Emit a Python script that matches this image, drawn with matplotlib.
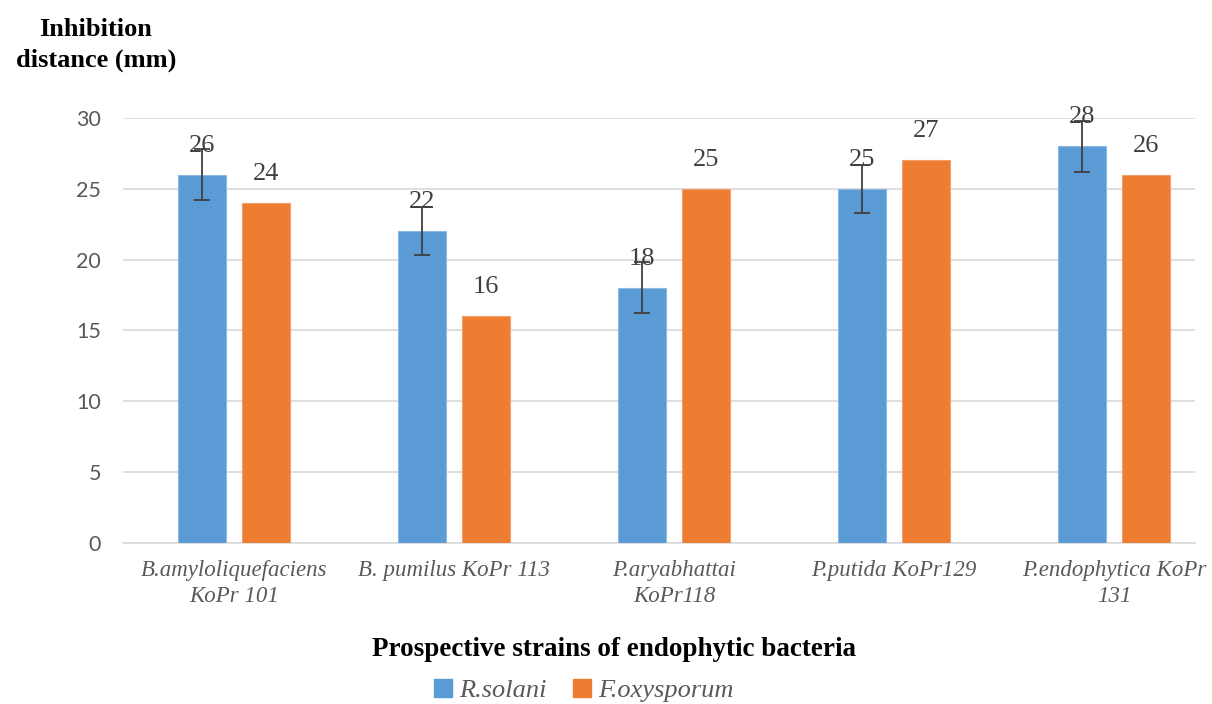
import matplotlib
matplotlib.use("Agg")
import matplotlib.pyplot as plt
import numpy as np
from matplotlib.patches import Patch

categories = ["B.amyloliquefaciens\nKoPr 101", "B. pumilus KoPr 113", "P.aryabhattai\nKoPr118",
              "P.putida KoPr129", "P.endophytica KoPr\n131"]
r_solani = [26, 22, 18, 25, 28]
r_solani_err = [1.8, 1.7, 1.8, 1.7, 1.8]
f_oxysporum = [24, 16, 25, 27, 26]
series_names = ["R.solani", "F.oxysporum"]
yticks = [0, 5, 10, 15, 20, 25, 30]

BLUE = "#5B9BD5"
ORANGE = "#ED7D31"
GREY = "#595959"

fig = plt.figure(figsize=(12.12, 7.04), dpi=100)
ax = fig.add_axes([0.1015, 0.2287, 0.8845, 0.6037])

x = np.arange(len(categories))
w = 0.218
off = 0.145
ax.bar(x - off, r_solani, w, color=BLUE, edgecolor="#8DB9E3", linewidth=0.8, zorder=3)
ax.bar(x + off, f_oxysporum, w, color=ORANGE, edgecolor="#F3A06A", linewidth=0.8, zorder=3)
ax.errorbar(x - off, r_solani, yerr=r_solani_err, fmt="none", ecolor="#404040",
            elinewidth=1.3, capsize=5.5, capthick=1.3, zorder=4)

for xs, vals in ((x - off, r_solani), (x + off, f_oxysporum)):
    for xi, v in zip(xs, vals):
        ax.annotate(f"{v}", (xi, v), xytext=(0, 13), textcoords="offset points",
                    ha="center", va="bottom", fontsize=19, family="Liberation Serif",
                    color="#404040", annotation_clip=False, zorder=5)

ax.set_xlim(-0.505, 4.368)
ax.set_ylim(0, 30)
ax.set_yticks(yticks)
ax.yaxis.grid(True, color="#D9D9D9", linewidth=1.2, zorder=0)
ax.set_axisbelow(True)
for s in ("top", "right", "left"):
    ax.spines[s].set_visible(False)
ax.spines["bottom"].set_color("#D9D9D9")
ax.spines["bottom"].set_linewidth(1.2)
ax.tick_params(axis="y", length=0, pad=16, labelsize=15.5, labelcolor=GREY)
for lab in ax.get_yticklabels():
    lab.set_family("Lato")
ax.set_xticks(x)
ax.set_xticklabels(categories, fontsize=16.5, family="Liberation Serif", style="italic",
                   color=GREY, linespacing=1.35)
ax.tick_params(axis="x", length=0, pad=12)

fig.text(0.079, 0.975, "Inhibition\ndistance (mm)", ha="center", va="top", fontsize=19,
         family="Liberation Serif", weight="bold", color="black", linespacing=1.45)
fig.text(0.507, 0.077, "Prospective strains of endophytic bacteria", ha="center", va="center",
         fontsize=19.5, family="Liberation Serif", weight="bold", color="black")

handles = [Patch(color=BLUE), Patch(color=ORANGE)]
leg = fig.legend(handles, series_names, loc="center", bbox_to_anchor=(0.482, 0.019),
                 ncol=2, frameon=False, handlelength=0.65, handleheight=0.65, handletextpad=0.3,
                 columnspacing=1.0, borderpad=0.1,
                 prop={"family": "Liberation Serif", "style": "italic", "size": 19})
for t in leg.get_texts():
    t.set_color(GREY)

fig.savefig("out.png", dpi=100)
